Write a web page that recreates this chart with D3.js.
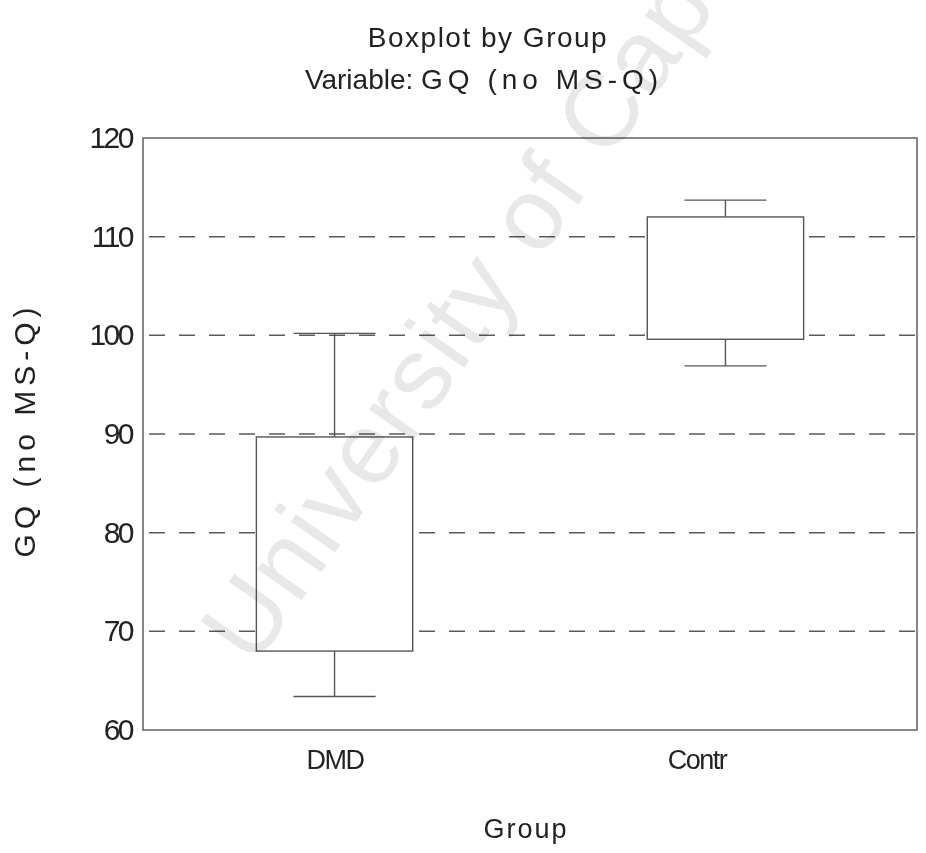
<!DOCTYPE html>
<html>
<head>
<meta charset="utf-8">
<script src="https://cdn.jsdelivr.net/npm/d3@7"></script>
<style>
  html, body { margin: 0; padding: 0; background: #fff; }
  svg { display: block; }
  text { font-family: "Liberation Sans", Arial, sans-serif; fill: #222; }
</style>
</head>
<body>
<svg id="chart" width="926" height="853"></svg>
<script>
// Groups and box summaries (lower whisker, Q1, Q3, upper whisker)
const groups = ["DMD", "Contr"];
const whiskerLow = [63.4, 96.9];
const q1 = [68.0, 99.6];
const q3 = [89.7, 112.0];
const whiskerHigh = [100.2, 113.7];

const yTicks = [60, 70, 80, 90, 100, 110, 120];
const gridValues = [70, 80, 90, 100, 110];

const titleLine1 = "Boxplot by Group";
const titleLine2a = "Variable:";
const titleLine2b = "GQ (no MS-Q)";
const xTitle = "Group";
const yTitle = "GQ (no MS-Q)";
const watermark = "University of Cape Town";

const svg = d3.select("#chart");
const W = 926, H = 853;
const plot = { left: 143, right: 917, top: 138, bottom: 730 };
const FONT = "'Liberation Sans', Arial, sans-serif";

svg.append("rect").attr("width", W).attr("height", H).attr("fill", "#fff");

const y = d3.scaleLinear().domain([60, 120]).range([plot.bottom, plot.top]);
const x = d3.scalePoint().domain(groups).range([plot.left, plot.right]).padding(0.49);
const step = x.step();
const boxW = step * 0.4;
const capW = step * 0.21;

// dashed horizontal reference lines
svg.append("g").selectAll("line").data(gridValues).join("line")
  .attr("x1", plot.left).attr("x2", plot.right)
  .attr("y1", d => y(d)).attr("y2", d => y(d))
  .attr("stroke", "#5a5a5a").attr("stroke-width", 1.5)
  .attr("stroke-dasharray", "16,14").attr("stroke-dashoffset", -6);

// plot frame
svg.append("rect")
  .attr("x", plot.left).attr("y", plot.top)
  .attr("width", plot.right - plot.left).attr("height", plot.bottom - plot.top)
  .attr("fill", "none").attr("stroke", "#555").attr("stroke-width", 1.4);

// y axis labels
const yAxis = d3.axisLeft(y).tickValues(yTicks).tickSize(0).tickPadding(11);
const yg = svg.append("g").attr("transform", `translate(${plot.left},0)`).call(yAxis);
yg.select(".domain").remove();
yg.selectAll("text")
  .style("font-size", "30px").style("letter-spacing", "-2.5px")
  .style("font-family", FONT).attr("fill", "#222");

// x axis labels
const xAxis = d3.axisBottom(x).tickSize(0).tickPadding(20);
const xg = svg.append("g").attr("transform", `translate(0,${plot.bottom})`).call(xAxis);
xg.select(".domain").remove();
xg.selectAll("text")
  .style("font-size", "27px").style("letter-spacing", "-1.5px")
  .style("font-family", FONT).attr("fill", "#222")
  .attr("dx", d => d === "Contr" ? -29 : 0);

// boxes and whiskers
const idx = groups.map((g, i) => i);
const bx = svg.append("g").attr("stroke", "#555").attr("stroke-width", 1.4);
bx.selectAll("line.whisk-hi").data(idx).join("line").attr("class", "whisk-hi")
  .attr("x1", i => x(groups[i])).attr("x2", i => x(groups[i]))
  .attr("y1", i => y(q3[i])).attr("y2", i => y(whiskerHigh[i]));
bx.selectAll("line.whisk-lo").data(idx).join("line").attr("class", "whisk-lo")
  .attr("x1", i => x(groups[i])).attr("x2", i => x(groups[i]))
  .attr("y1", i => y(q1[i])).attr("y2", i => y(whiskerLow[i]));
bx.selectAll("line.cap-hi").data(idx).join("line").attr("class", "cap-hi")
  .attr("x1", i => x(groups[i]) - capW / 2).attr("x2", i => x(groups[i]) + capW / 2)
  .attr("y1", i => y(whiskerHigh[i])).attr("y2", i => y(whiskerHigh[i]));
bx.selectAll("line.cap-lo").data(idx).join("line").attr("class", "cap-lo")
  .attr("x1", i => x(groups[i]) - capW / 2).attr("x2", i => x(groups[i]) + capW / 2)
  .attr("y1", i => y(whiskerLow[i])).attr("y2", i => y(whiskerLow[i]));
bx.selectAll("rect").data(idx).join("rect")
  .attr("x", i => x(groups[i]) - boxW / 2).attr("width", boxW)
  .attr("y", i => y(q3[i])).attr("height", i => y(q1[i]) - y(q3[i]))
  .attr("fill", "#fff");

// titles
svg.append("text").attr("x", 488).attr("y", 47).attr("text-anchor", "middle")
  .style("font-size", "28px").style("letter-spacing", "1.5px").text(titleLine1);
const t2 = svg.append("text").attr("x", 484).attr("y", 89).attr("text-anchor", "middle")
  .style("font-size", "28px");
t2.append("tspan").style("letter-spacing", "0px").text(titleLine2a + " ");
t2.append("tspan").style("letter-spacing", "5px").text(titleLine2b);

svg.append("text").attr("x", 526).attr("y", 838).attr("text-anchor", "middle")
  .style("font-size", "27px").style("letter-spacing", "2px").text(xTitle);

svg.append("text").attr("transform", "translate(35,430) rotate(-90)")
  .attr("text-anchor", "middle")
  .style("font-size", "30px").style("letter-spacing", "5px").text(yTitle);

// faint diagonal watermark
svg.append("text").attr("transform", "translate(254,668) rotate(-55)")
  .style("font-size", "102px").style("letter-spacing", "2px")
  .style("mix-blend-mode", "multiply")
  .style("fill", "#e8e8e8")
  .text(watermark);
</script>
</body>
</html>
